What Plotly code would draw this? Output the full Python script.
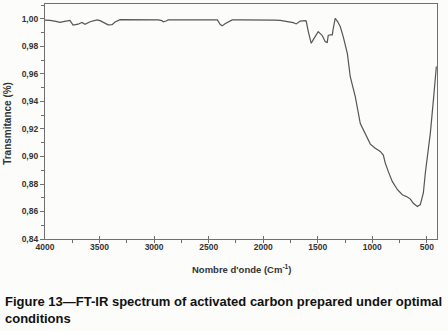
import plotly.graph_objects as go

# Wavenumber (cm-1) and transmittance
wavenumber = [4000, 3954, 3900, 3862, 3820, 3798, 3771, 3743, 3720, 3697, 3661, 3633,
              3587, 3523, 3495, 3450, 3422, 3385, 3358, 3312, 3200, 3100, 3037, 2960,
              2930, 2917, 2890, 2870, 2800, 2700, 2600, 2500, 2420, 2394, 2375, 2350,
              2330, 2284, 2200, 2100, 2000, 1900, 1844, 1800, 1760, 1725, 1697, 1661,
              1615, 1606, 1587, 1560, 1541, 1496, 1459, 1431, 1413, 1404, 1385, 1367,
              1358, 1340, 1321, 1294, 1266, 1229, 1202, 1156, 1110, 1064, 1018, 973,
              927, 899, 881, 853, 817, 771, 725, 679, 651, 624, 587, 560, 532, 514,
              495, 468, 440, 413]
transmittance = [0.9992, 0.9990, 0.9982, 0.9975, 0.9982, 0.9986, 0.9990, 0.9955, 0.9958,
                 0.9962, 0.9975, 0.9962, 0.9980, 0.9993, 0.9988, 0.9970, 0.9957, 0.9958,
                 0.9978, 0.9995, 0.9993, 0.9995, 0.9995, 0.9994, 0.9988, 0.9980, 0.9985,
                 0.9993, 0.9994, 0.9995, 0.9994, 0.9995, 0.9993, 0.9960, 0.9950, 0.9965,
                 0.9973, 0.9993, 0.9994, 0.9995, 0.9994, 0.9992, 0.9990, 0.9985, 0.9982,
                 0.9973, 0.9964, 0.9985, 0.9988, 0.9985, 0.9910, 0.9823, 0.9850, 0.9908,
                 0.9880, 0.9835, 0.9830, 0.9880, 0.9885, 0.9885, 0.9930, 1.0005, 0.9985,
                 0.9945, 0.9870, 0.9750, 0.9580, 0.9436, 0.9240, 0.9170, 0.9090, 0.9060,
                 0.9037, 0.9010, 0.8952, 0.8890, 0.8819, 0.8760, 0.8722, 0.8706, 0.8690,
                 0.8660, 0.8637, 0.8650, 0.8735, 0.8880, 0.8989, 0.9170, 0.9410, 0.9654]

x_ticks = [4000, 3500, 3000, 2500, 2000, 1500, 1000, 500]
x_ticklabels = ["4000", "3500", "3000", "2500", "2000", "1500", "1000", "500"]
y_ticks = [0.84, 0.86, 0.88, 0.90, 0.92, 0.94, 0.96, 0.98, 1.00]
y_ticklabels = ["0,84", "0,86", "0,88", "0,90", "0,92", "0,94", "0,96", "0,98", "1,00"]

x_title = "Nombre d'onde (Cm<sup>-1</sup>)"
y_title = "Transmitance (%)"
caption = "Figure 13\u2014FT-IR spectrum of activated carbon prepared under optimal<br>conditions"

AXIS_COLOR = "#707070"
TEXT_COLOR = "#333333"
BG = "#fcfcfa"
FONT = "Liberation Sans, Arial, sans-serif"

fig = go.Figure()
fig.add_trace(go.Scatter(x=wavenumber, y=transmittance, mode="lines",
                         line=dict(color="#555555", width=1.2), showlegend=False,
                         hoverinfo="skip"))

fig.update_layout(
    width=448, height=331,
    margin=dict(l=45, r=11, t=4, b=92),
    paper_bgcolor=BG, plot_bgcolor=BG,
    font=dict(family=FONT, color=TEXT_COLOR),
    xaxis=dict(range=[4000, 407], tickvals=x_ticks, ticktext=x_ticklabels,
               showgrid=False, zeroline=False, showline=True, linecolor=AXIS_COLOR,
               linewidth=1.2, mirror=True, ticks="inside", ticklen=3,
               tickcolor=AXIS_COLOR, tickwidth=1,
               minor=dict(dtick=250, tick0=0, ticks="outside", ticklen=3,
                          tickcolor=AXIS_COLOR, tickwidth=1),
               tickfont=dict(size=8.5, weight="bold", color=TEXT_COLOR, family=FONT)),
    yaxis=dict(range=[0.84, 1.0109], tickvals=y_ticks, ticktext=y_ticklabels,
               showgrid=False, zeroline=False, showline=True, linecolor=AXIS_COLOR,
               linewidth=1.2, mirror=True, ticks="outside", ticklen=4,
               tickcolor=AXIS_COLOR, tickwidth=1,
               minor=dict(dtick=0.01, tick0=0.84, ticks="outside", ticklen=3,
                          tickcolor=AXIS_COLOR, tickwidth=1),
               tickfont=dict(size=8.5, weight="bold", color=TEXT_COLOR, family=FONT)),
    yaxis2=dict(overlaying="y", side="right", anchor="x", range=[0, 10.06], dtick=1,
                tick0=0, ticks="inside", ticklen=3, tickcolor=AXIS_COLOR,
                showticklabels=False, showgrid=False, zeroline=False, showline=False),
)

fig.add_annotation(text=x_title, xref="paper", yref="paper", x=0.5, y=0,
                   yshift=-30, xanchor="center", yanchor="middle", showarrow=False,
                   font=dict(size=9.5, weight="bold", color=TEXT_COLOR, family=FONT))
fig.add_annotation(text=y_title, xref="paper", yref="paper", x=0, y=0.49,
                   xshift=-37, xanchor="center", yanchor="middle", textangle=-90,
                   showarrow=False,
                   font=dict(size=10, weight="bold", color=TEXT_COLOR, family=FONT))
fig.add_annotation(text=caption, xref="paper", yref="paper", x=0, y=0,
                   xshift=-42, yshift=-70.7, xanchor="left", yanchor="middle",
                   align="left", showarrow=False,
                   font=dict(size=13, weight="bold", color="#111111", family=FONT))

fig.write_html("out.html", config={"displayModeBar": False},
               post_script="document.body.style.margin='0';document.body.style.background='#fcfcfa';")
